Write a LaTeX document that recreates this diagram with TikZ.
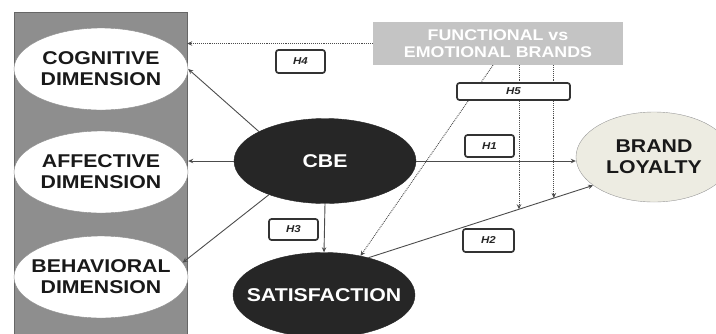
\documentclass[tikz,border=0pt]{standalone}
\usepackage{fontspec}
\setmainfont{Liberation Sans}[FakeStretch=1.15]
\usetikzlibrary{shapes.geometric,arrows.meta}
\definecolor{panelGray}{HTML}{8E8E8E}
\definecolor{boxGray}{HTML}{C4C4C4}
\definecolor{darkFill}{HTML}{262626}
\definecolor{loyalFill}{HTML}{EDECE2}
\begin{document}
\begin{tikzpicture}
[x=1pt,y=-1pt,
  panelDecorate/.style={shape=rectangle,draw=black!60,fill=panelGray,inner sep=0pt},%
  dimDecorate/.style={shape=ellipse,draw=black!45,fill=white,inner xsep=-30pt,inner ysep=0pt,
    minimum width=174pt,minimum height=82pt,align=center,text=black!90,
    font=\fontsize{18.5}{21}\selectfont\bfseries},%
  darkDecorate/.style={dimDecorate,draw=darkFill,fill=darkFill,text=white,
    minimum width=182pt,minimum height=85pt},%
  loyalDecorate/.style={dimDecorate,draw=black!40,fill=loyalFill,
    minimum width=156pt,minimum height=90pt},%
  brandDecorate/.style={shape=rectangle,fill=boxGray,text=white,inner sep=0pt,align=center,
    minimum width=250pt,minimum height=43pt,font=\fontsize{15.5}{17}\selectfont\bfseries},%
  hypoDecorate/.style={shape=rectangle,rounded corners=2.5pt,draw=black!80,line width=1.7pt,
    fill=white,inner sep=0pt,font=\fontsize{10}{11}\selectfont\bfseries\itshape,text=black!85},%
  lineDecorate/.style={-{Stealth[length=5pt,width=4.5pt]},draw=black!70,line width=0.9pt},%
  dotDecorate/.style={lineDecorate,densely dotted}]
\useasboundingbox (0,0) rectangle (716,333);
%% gray panel behind the dimensions
\node (panel) at (100.5,176) [panelDecorate,minimum width=173pt,minimum height=328pt] {};
%% nodes or vertices
\foreach \nodename/\y/\txt in {cog/69/COGNITIVE, aff/172/AFFECTIVE, beh/277/BEHAVIORAL}
{
  \node (\nodename) at (101,\y) [dimDecorate] {\txt\\DIMENSION};
}
\node (cbe) at (325,161) [darkDecorate] {CBE};
\node (sat) at (324,295) [darkDecorate] {SATISFACTION};
\node (bl) at (654,157) [loyalDecorate] {BRAND\\LOYALTY};
\node (fb) at (498,43.5) [brandDecorate] {FUNCTIONAL vs\\EMOTIONAL BRANDS};
%% edges or lines
\path
\foreach \startnode/\endnode in {cbe.156/cog.east, cbe.211/beh.10, cbe.south/sat.north}
{
  (\startnode) edge[lineDecorate] (\endnode)
};
\draw[lineDecorate] (cbe.west) -- (cbe.west -| aff.east);
\draw[lineDecorate] (cbe.east) -- (cbe.east -| bl.west);
\draw[lineDecorate] (sat.40) -- coordinate[pos=0.67] (modA) coordinate[pos=0.825] (modB) (bl.205);
%% moderating effects
\draw[dotDecorate] (fb.west) -- (fb.west -| panel.east);
\draw[dotDecorate] ([xshift=-5pt]fb.south) -- (sat.47);
\foreach \modname in {modA, modB}
{
  \draw[dotDecorate] (\modname |- fb.south) -- (\modname);
}
%% hypotheses
\foreach \nodename/\x/\y/\w/\h in {H4/300.5/61.5/49/23, H5/513.5/91.5/113/17, H1/489.5/146/49/22,
  H3/293.5/229.5/49/21, H2/488.5/240.5/51/23}
{
  \node (\nodename) at (\x,\y) [hypoDecorate,minimum width=\w*1pt,minimum height=\h*1pt] {\nodename};
}
\end{tikzpicture}
\end{document}
